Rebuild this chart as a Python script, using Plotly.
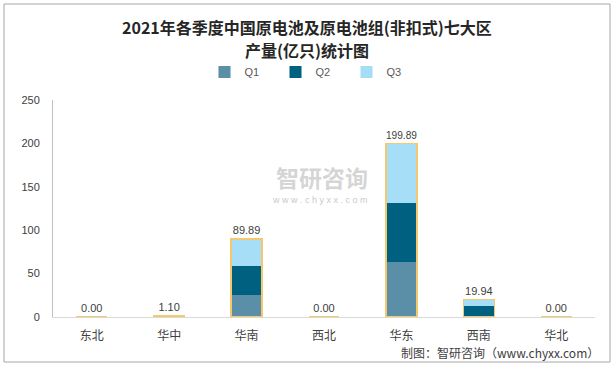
import plotly.graph_objects as go

regions = ["东北", "华中", "华南", "西北", "华东", "西南", "华北"]
q1 = [0.0, 0.35, 25.5, 0.0, 63.5, 0.0, 0.0]
q2 = [0.0, 0.37, 33.0, 0.0, 68.0, 13.2, 0.0]
q3 = [0.0, 0.38, 31.39, 0.0, 68.39, 6.74, 0.0]
totals = [0.00, 1.10, 89.89, 0.00, 199.89, 19.94, 0.00]
series_names = ["Q1", "Q2", "Q3"]
colors = ["#5B8FA8", "#00607F", "#A6DEF7"]

fig = go.Figure()
for name, vals, c in zip(series_names, [q1, q2, q3], colors):
    fig.add_trace(go.Bar(x=regions, y=vals, name=name, marker=dict(color=c, line=dict(width=0)),
                         width=0.4, hoverinfo="skip"))

fig.add_trace(go.Bar(x=regions, y=totals, yaxis="y2", showlegend=False, width=0.4,
                     marker=dict(color="rgba(0,0,0,0)", line=dict(color="#F5C96B", width=1.5)),
                     text=[f"{v:.2f}" for v in totals], textposition="outside",
                     textfont=dict(size=11, color="#404040", family="Liberation Sans"),
                     cliponaxis=False, hoverinfo="skip"))

W, H = 614, 368
L, R, T, B = 53, 19, 100, 51
pw, ph = W - L - R, H - T - B

def px(x):
    return (x - L) / pw

def py(y):
    return (H - B - y) / ph

fig.update_layout(
    width=W, height=H, barmode="stack",
    margin=dict(l=L, r=R, t=T, b=B, autoexpand=False),
    paper_bgcolor="white", plot_bgcolor="white",
    font=dict(family="Noto Sans CJK SC", color="#404040"),
    xaxis=dict(showline=True, linecolor="#D9D9D9", linewidth=1, ticks="",
               tickfont=dict(size=12, color="#404040"), showgrid=False, ticklabelstandoff=8),
    yaxis=dict(range=[0, 250], dtick=50, showgrid=False, showline=True, linecolor="#BFBFBF",
               ticks="", tickfont=dict(size=11, color="#404040", family="Liberation Sans"),
               zeroline=False, ticklabelstandoff=10),
    yaxis2=dict(range=[0, 250], overlaying="y", visible=False),
    legend=dict(orientation="h", x=px(311), xanchor="center", y=py(72), yanchor="middle",
                font=dict(size=11, color="#595959", family="Liberation Sans"),
                entrywidth=26, entrywidthmode="pixels", traceorder="normal", itemwidth=30),
    showlegend=True,
)

title_font = dict(size=16, color="#262626", family="Noto Sans CJK SC")
fig.add_annotation(text="<b>2021年各季度中国原电池及原电池组(非扣式)七大区</b>",
                   xref="paper", yref="paper", x=px(307), y=py(27), xanchor="center", yanchor="middle",
                   showarrow=False, font=title_font)
fig.add_annotation(text="<b>产量(亿只)统计图</b>",
                   xref="paper", yref="paper", x=px(307), y=py(50), xanchor="center", yanchor="middle",
                   showarrow=False, font=title_font)
fig.add_annotation(text="制图：智研咨询（www.chyxx.com）", xref="paper", yref="paper",
                   x=px(601), y=py(352), xanchor="right", yanchor="middle", showarrow=False,
                   font=dict(size=12, color="#404040", family="Noto Sans CJK SC"))
fig.add_annotation(text="<b>智研咨询</b>", xref="paper", yref="paper", x=px(322), y=py(177),
                   xanchor="center", yanchor="middle",
                   showarrow=False, font=dict(size=23, color="rgba(160,160,160,0.45)"))
fig.add_annotation(text="w w w . c h y x x . c o m", xref="paper", yref="paper", x=px(320), y=py(200),
                   xanchor="center", yanchor="middle",
                   showarrow=False, font=dict(size=9, color="rgba(150,150,150,0.55)", family="Liberation Sans"))
fig.add_shape(type="rect", xref="paper", yref="paper", x0=px(4), x1=px(610), y0=py(362), y1=py(4),
              line=dict(color="#A6A6A6", width=1))

fig.write_html("out.html", config={"displayModeBar": False},
               post_script="document.body.style.margin='0';document.body.style.overflow='hidden';")
